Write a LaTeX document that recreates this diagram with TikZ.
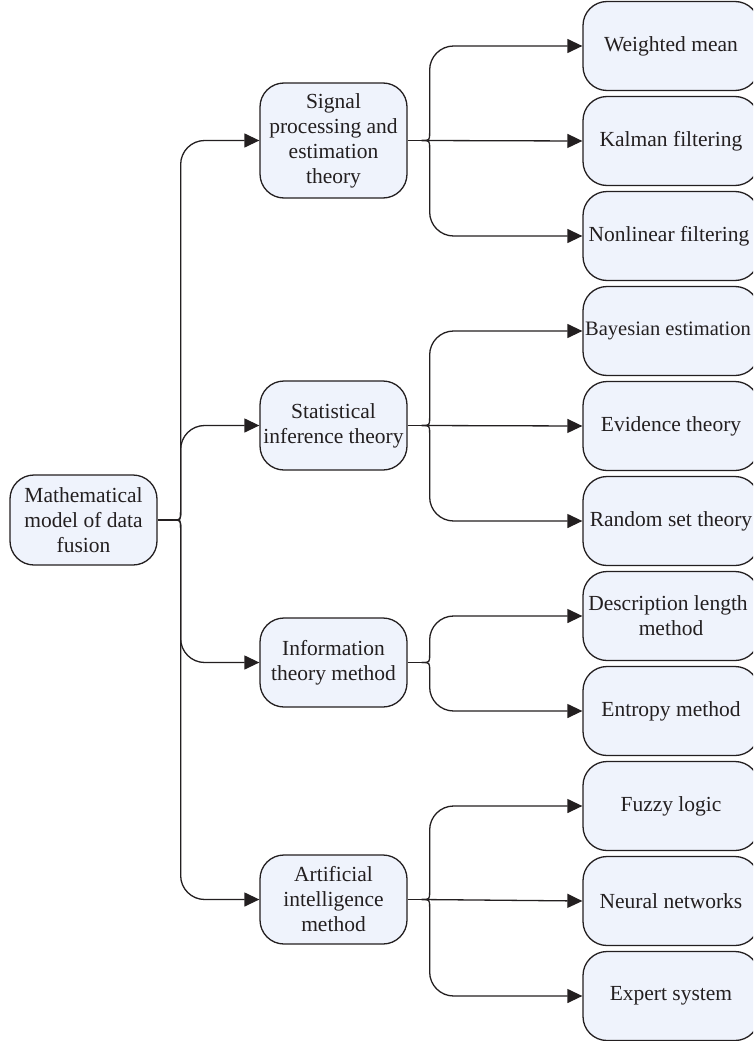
\documentclass[tikz,border=0pt]{standalone}
\usepackage{fontspec}
\setmainfont{Liberation Serif}
\usetikzlibrary{arrows.meta,calc}
\definecolor{boxfill}{RGB}{239,243,252}
\definecolor{ink}{RGB}{35,31,32}

\begin{document}
\begin{tikzpicture}[x=1pt,y=-1pt,
  box/.style={draw=ink, line width=1.3pt, fill=boxfill, rounded corners=24pt,
    inner sep=0pt, align=center, text=ink,
    font=\fontsize{21.5}{25}\selectfont},
  mid/.style={box, minimum width=147pt, minimum height=89pt},
  leaf/.style={box, minimum width=176pt, minimum height=89pt},
  wire/.style={draw=ink, line width=1.3pt},
  link/.style={wire, -{Triangle[length=15pt,width=14pt]}},
]
\useasboundingbox (0,0) rectangle (753,1041);
\clip (0,0) rectangle (753,1041);

% root and the four families of methods
\node[mid, minimum height=90pt] (root) at (83.5,520)
  {Mathematical\\model of data\\fusion};
\node[mid, minimum height=115pt] (sig) at (333.5,140.5)
  {Signal\\processing and\\estimation\\theory};
\node[mid] (stat) at (333.5,425.5) {Statistical\\inference theory};
\node[mid] (info) at (333.5,662.5) {Information\\theory method};
\node[mid] (ai) at (333.5,899.5) {Artificial\\intelligence\\method};

% individual methods
\node[leaf] (wm)  at (671,46)  {Weighted mean};
\node[leaf] (kf)  at (671,141) {Kalman filtering};
\node[leaf] (nf)  at (671,236) {\hspace*{-4pt}Nonlinear filtering};
\node[leaf, font=\fontsize{20.5}{25}\selectfont] (be) at (671,331)
  {\hspace*{-6pt}Bayesian estimation};
\node[leaf] (ev)  at (671,426) {Evidence theory};
\node[leaf] (rs)  at (671,521) {Random set theory};
\node[leaf] (dl)  at (671,616) {\hspace*{-6pt}Description length\\method};
\node[leaf] (en)  at (671,711) {Entropy method};
\node[leaf] (fl)  at (671,806) {Fuzzy logic};
\node[leaf] (nn)  at (671,901) {Neural networks};
\node[leaf] (es)  at (671,996) {Expert system};

% brace-like junctions
\coordinate (j0) at ([xshift=15pt]root.east);
\coordinate (j1) at ([xshift=14pt]sig.east);
\coordinate (j2) at ([xshift=14pt]stat.east);
\coordinate (j3) at ([xshift=14pt]info.east);
\coordinate (j4) at ([xshift=14pt]ai.east);

\draw[wire] (root.east) -- (j0);
\draw[wire] (sig.east) -- (j1);
\draw[wire] (stat.east) -- (j2);
\draw[wire] (info.east) -- (j3);
\draw[wire] (ai.east) -- (j4);

% branches going up and down from a junction
\foreach \j/\t in {j0/sig, j0/stat, j1/wm, j2/be, j3/dl, j4/fl}
  \draw[link] (\j) .. controls ($(\j)+(8,0)$) .. ($(\j)+(8,-8)$)
    [rounded corners=24pt] |- (\t.west);
\foreach \j/\t in {j0/info, j0/ai, j1/nf, j2/rs, j3/en, j4/es}
  \draw[link] (\j) .. controls ($(\j)+(8,0)$) .. ($(\j)+(8,8)$)
    [rounded corners=24pt] |- (\t.west);
% straight branches
\draw[link] (j1) -- (kf.west);
\draw[link] (j2) -- (ev.west);
\draw[link] (j4) -- (nn.west);
\end{tikzpicture}
\end{document}
